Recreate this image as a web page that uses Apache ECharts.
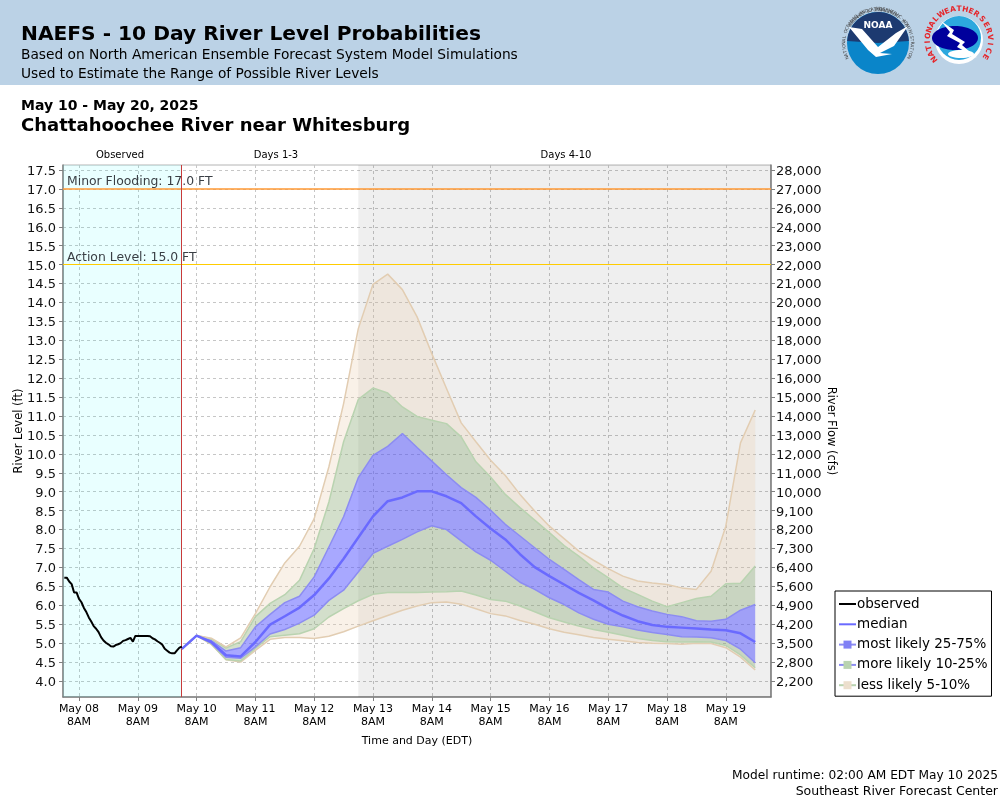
<!DOCTYPE html>
<html>
<head>
<meta charset="utf-8">
<style>html,body{margin:0;padding:0;background:#fff}#chart{width:1000px;height:800px}</style>
<script src="https://cdn.jsdelivr.net/npm/echarts@6/dist/echarts.min.js"></script>
</head>
<body>
<div id="chart"></div>
<script>
// hours counted from May 08 8AM
var observedStart = -6, forecastStart = 42, forecastStep = 6;
var observed = [6.73,6.73,6.63,6.56,6.34,6.34,6.17,6.08,5.93,5.82,5.68,5.57,5.45,5.38,5.29,5.16,5.07,5.01,4.97,4.92,4.91,4.95,4.97,5.0,5.06,5.08,5.11,5.14,5.04,5.19,5.19,5.19,5.19,5.19,5.19,5.18,5.13,5.1,5.05,5.01,4.96,4.85,4.8,4.75,4.73,4.73,4.81,4.88,4.91];
var median = [4.85,5.2,5.03,4.68,4.65,5.03,5.49,5.71,5.94,6.27,6.71,7.23,7.79,8.35,8.75,8.85,9.01,9.01,8.88,8.7,8.35,8.03,7.74,7.35,7.01,6.77,6.55,6.33,6.13,5.91,5.73,5.58,5.48,5.43,5.41,5.39,5.36,5.34,5.26,5.03];
var low5 = [4.85,5.2,4.97,4.56,4.5,4.81,5.1,5.15,5.15,5.12,5.18,5.3,5.45,5.59,5.73,5.87,5.98,6.07,6.09,6.03,5.91,5.78,5.72,5.6,5.5,5.38,5.29,5.22,5.15,5.1,5.06,5.02,5.0,4.99,4.97,5.0,4.99,4.88,4.63,4.29];
var low10 = [4.85,5.2,4.98,4.57,4.53,4.86,5.17,5.21,5.25,5.38,5.69,5.91,6.12,6.29,6.34,6.34,6.34,6.35,6.36,6.38,6.27,6.15,6.11,5.98,5.83,5.67,5.56,5.45,5.36,5.29,5.21,5.12,5.07,5.04,5.03,5.04,5.03,4.94,4.69,4.35];
var low25 = [4.85,5.2,5.0,4.63,4.6,4.9,5.24,5.36,5.53,5.74,6.13,6.4,6.88,7.37,7.56,7.74,7.94,8.1,8.0,7.7,7.41,7.19,6.9,6.61,6.42,6.2,6.02,5.8,5.63,5.5,5.43,5.35,5.28,5.23,5.17,5.16,5.14,5.07,4.84,4.48];
var high25 = [4.85,5.2,5.07,4.79,4.88,5.43,5.76,6.07,6.24,6.75,7.54,8.34,9.37,9.96,10.2,10.54,10.17,9.81,9.45,9.11,8.85,8.51,8.14,7.83,7.52,7.21,6.95,6.68,6.42,6.35,6.11,5.96,5.85,5.76,5.7,5.59,5.58,5.63,5.87,6.02];
var high10 = [4.85,5.2,5.11,4.87,5.04,5.7,6.05,6.28,6.66,7.5,8.73,10.32,11.44,11.74,11.61,11.24,10.99,10.89,10.8,10.45,9.79,9.39,8.93,8.58,8.25,7.92,7.58,7.3,6.99,6.73,6.46,6.29,6.11,5.96,6.07,6.18,6.24,6.57,6.58,7.04];
var high5 = [4.85,5.2,5.13,4.9,5.14,5.78,6.49,7.12,7.56,8.29,9.66,11.33,13.31,14.48,14.75,14.34,13.62,12.65,11.73,10.82,10.32,9.83,9.43,8.93,8.49,8.09,7.76,7.43,7.19,6.97,6.77,6.64,6.59,6.55,6.46,6.42,6.9,8.09,10.29,11.16];

var levelTicks = [4,4.5,5,5.5,6,6.5,7,7.5,8,8.5,9,9.5,10,10.5,11,11.5,12,12.5,13,13.5,14,14.5,15,15.5,16,16.5,17,17.5];
var flowLabels = ['2,200','2,800','3,500','4,200','4,900','5,600','6,400','7,300','8,200','9,100','10,000','11,000','12,000','13,000','14,000','15,000','16,000','17,000','18,000','19,000','20,000','21,000','22,000','23,000','24,000','26,000','27,000','28,000'];
var dayTicks = [0,24,48,72,96,120,144,168,192,216,240,264];
var dayLabels = ['May 08','May 09','May 10','May 11','May 12','May 13','May 14','May 15','May 16','May 17','May 18','May 19'];

var FONT = 'DejaVu Sans';
var TAN = '#e2cdb2', GREEN = '#b9d3b0', BLUE = '#8c8cf2', MEDIAN = '#6a6aff';

var forecastX = median.map(function (v, i) { return forecastStart + i * forecastStep; });
function pairs(xs, ys) { return ys.map(function (v, i) { return [xs[i], v]; }); }
// stacked rows: value first so the stack runs on the level, not the hour
function diff(top, bottom) { return top.map(function (v, i) { return [+(v - bottom[i]).toFixed(3), forecastX[i]]; }); }

function band(name, top, bottom, line, fill, legendFill) {
  return {
    name: name, type: 'line', stack: 'range', data: diff(top, bottom), encode: { x: 1, y: 0 },
    symbol: 'rect', showSymbol: false, lineStyle: { color: line, width: 1.5 },
    itemStyle: { color: legendFill, borderColor: line }, areaStyle: { color: fill, opacity: 1 }, z: 3, silent: true
  };
}

function limitLine(name, item) {
  return {
    name: name, type: 'line', data: [], z: 6, silent: true,
    markLine: {
      silent: true, symbol: 'none', animation: false, data: [item],
      label: { position: 'insideStartTop', fontFamily: FONT, fontSize: 12.4, color: '#3a3f45', distance: [4, 1] }
    }
  };
}

function txt(x, y, text, size, weight, align, color, rotation) {
  return {
    type: 'text', x: x, y: y, rotation: rotation || 0, z: 20,
    style: { text: text, fontFamily: FONT, fontSize: size, fontWeight: weight || 'normal', align: align || 'left', verticalAlign: 'middle', fill: color || '#000' }
  };
}

// letters set round a circle, for the two logos
function ring(cx, cy, r, text, from, to, size, weight, color, inward) {
  return text.split('').map(function (ch, i) {
    var a = (from + (to - from) * i / (text.length - 1)) * Math.PI / 180;
    var px = cx + r * Math.sin(a), py = cy - r * Math.cos(a);
    return txt(px, py, ch, size, weight, 'center', color, inward ? -a + Math.PI : -a);
  });
}

var logos = [
  { type: 'circle', shape: { cx: 878, cy: 43, r: 31 }, style: { fill: '#0a85c9' }, z: 15 },
  { type: 'sector', shape: { cx: 878, cy: 43, r: 31, startAngle: Math.PI * 1.02, endAngle: Math.PI * 1.98 }, style: { fill: '#1d3a70' }, z: 15 },
  { type: 'polygon', shape: { points: [[849,27],[862,29],[878,47],[896,33],[908,26],[894,46],[880,53],[892,54],[876,57],[868,50]] }, style: { fill: '#fff' }, z: 16 },
  txt(878, 26, 'NOAA', 9, 'bold', 'center', '#fff'),
  { type: 'circle', shape: { cx: 959, cy: 40, r: 24 }, style: { fill: '#fff' }, z: 15 },
  { type: 'circle', shape: { cx: 959, cy: 38, r: 22 }, style: { fill: '#2ca8de' }, z: 15 },
  { type: 'ellipse', shape: { cx: 955, cy: 38, rx: 23, ry: 12 }, style: { fill: '#00009c' }, z: 16 },
  { type: 'ellipse', shape: { cx: 961, cy: 54, rx: 13, ry: 4 }, style: { fill: '#fff' }, z: 16 },
  { type: 'polygon', shape: { points: [[941,21],[954,30],[952,34],[965,42],[962,45],[977,58],[957,47],[960,43],[947,36],[950,32]] }, style: { fill: '#fff' }, z: 17 }
].concat(
  ring(878, 43, 34, 'NATIONAL OCEANIC AND ATMOSPHERIC ADMINISTRATION', -115, 115, 4.5, 'normal', '#444', false),
  ring(878, 43, 34, 'U.S. DEPARTMENT OF COMMERCE', 58, -58, 4.5, 'normal', '#444', true),
  ring(959, 40, 31, 'NATIONAL', -128, -48, 7.5, 'bold', '#e5252a', false),
  ring(959, 40, 31, 'WEATHER', -34, 34, 7.5, 'bold', '#e5252a', false),
  ring(959, 40, 31, 'SERVICE', 48, 122, 7.5, 'bold', '#e5252a', false)
);

var page = [
  { type: 'rect', shape: { x: 0, y: 0, width: 1000, height: 85 }, style: { fill: '#bbd2e6' }, z: 10 },
  txt(21, 34.5, 'NAEFS - 10 Day River Level Probabilities', 20.2, 'bold'),
  txt(21, 55, 'Based on North American Ensemble Forecast System Model Simulations', 13.75),
  txt(21, 74, 'Used to Estimate the Range of Possible River Levels', 13.75),
  txt(21, 106, 'May 10 - May 20, 2025', 14, 'bold'),
  txt(21, 126, 'Chattahoochee River near Whitesburg', 18.05, 'bold'),
  txt(120, 155, 'Observed', 10, 'normal', 'center'),
  txt(276, 155, 'Days 1-3', 10, 'normal', 'center'),
  txt(566, 155, 'Days 4-10', 10, 'normal', 'center'),
  txt(19, 431, 'River Level (ft)', 11.5, 'normal', 'center', '#000', Math.PI / 2),
  txt(831, 431, 'River Flow (cfs)', 11.5, 'normal', 'center', '#000', -Math.PI / 2),
  txt(417, 741, 'Time and Day (EDT)', 11, 'normal', 'center'),
  txt(998, 776, 'Model runtime: 02:00 AM EDT May 10 2025', 12.2, 'normal', 'right'),
  txt(998, 792, 'Southeast River Forecast Center', 12.5, 'normal', 'right')
].concat(logos);

var grid = { left: 63, right: 229, top: 165, height: 532, show: true, backgroundColor: '#fff', borderColor: '#b4b4b4', borderWidth: 1 };
var xMin = -6.53, xMax = 282.45, yMin = 3.577, yMax = 17.633;
var dashed = { show: true, lineStyle: { type: [3, 3], color: '#c6c6c6', width: 1 } };
var tickLabelRich = { v: { fontFamily: FONT, fontSize: 13, color: '#111', padding: [3, 0, 0, 0] } };

var chart = echarts.init(document.getElementById('chart'));
chart.setOption({
  animation: false,
  textStyle: { fontFamily: FONT },
  graphic: { elements: page },
  grid: grid,
  legend: {
    orient: 'vertical', left: 835, top: 591, padding: [6, 4, 4, 3], itemGap: 6.3, itemWidth: 17, itemHeight: 10,
    backgroundColor: '#fff', borderColor: '#000', borderWidth: 1, selectedMode: false, z: 12,
    textStyle: { fontFamily: FONT, fontSize: 13.5, color: '#000', padding: [0, 0, 0, -4] },
    data: [
      { name: 'observed', itemStyle: { opacity: 0 } },
      { name: 'median', itemStyle: { opacity: 0 } },
      'most likely 25-75%', 'more likely 10-25%', 'less likely 5-10%'
    ]
  },
  xAxis: {
    type: 'value', min: xMin, max: xMax,
    axisLine: { onZero: false, lineStyle: { color: '#808080', width: 1.5 } },
    axisTick: { customValues: dayTicks, length: 4, lineStyle: { color: '#808080' } },
    axisLabel: {
      customValues: dayTicks, margin: 6, fontSize: 11, color: '#000', lineHeight: 13,
      formatter: function (v) { return dayLabels[dayTicks.indexOf(v)] + '\n8AM'; }
    },
    splitLine: dashed
  },
  yAxis: [{
    type: 'value', min: yMin, max: yMax,
    axisLine: { show: true, onZero: false, lineStyle: { color: '#808080', width: 1.5 } },
    axisTick: { show: true, customValues: levelTicks, length: 4, lineStyle: { color: '#808080' } },
    axisLabel: { customValues: levelTicks, margin: 7, rich: tickLabelRich, formatter: function (v) { return '{v|' + v.toFixed(1) + '}'; } },
    splitLine: dashed
  }, {
    type: 'value', position: 'right', min: yMin, max: yMax,
    axisLine: { show: true, onZero: false, lineStyle: { color: '#808080', width: 1.5 } },
    axisTick: { show: true, customValues: levelTicks, length: 4, lineStyle: { color: '#808080' } },
    axisLabel: { customValues: levelTicks, margin: 5, rich: tickLabelRich, formatter: function (v) { return '{v|' + flowLabels[levelTicks.indexOf(v)] + '}'; } },
    splitLine: { show: false }
  }],
  series: [
    {
      // shaded time ranges
      name: 'ranges', type: 'line', data: [], z: 1, silent: true,
      markArea: {
        silent: true,
        data: [
          [{ xAxis: xMin, itemStyle: { color: 'rgba(0,255,255,0.085)' } }, { xAxis: 41.8 }],
          [{ xAxis: 114, itemStyle: { color: 'rgba(0,0,0,0.063)' } }, { xAxis: xMax }]
        ]
      }
    },
    limitLine('minor', { yAxis: 17, lineStyle: { color: '#ff9933', width: 1.5, type: 'solid' }, label: { formatter: 'Minor Flooding: 17.0 FT' } }),
    limitLine('action', { yAxis: 15, lineStyle: { color: '#ffcc00', width: 1.2, type: 'solid' }, label: { formatter: 'Action Level: 15.0 FT' } }),
    limitLine('start', { xAxis: 41.8, lineStyle: { color: '#c83a3a', width: 1, type: 'solid' }, label: { show: false } }),
    {
      name: 'base', type: 'line', stack: 'range', data: low5.map(function (v, i) { return [v, forecastX[i]]; }),
      encode: { x: 1, y: 0 }, symbol: 'none', lineStyle: { color: TAN, width: 1.5 }, z: 3, silent: true
    },
    band('less likely 5-10%', low10, low5, GREEN, 'rgba(235,210,180,0.3)', '#ecdfcd'),
    band('more likely 10-25%', low25, low10, BLUE, 'rgba(144,175,125,0.4)', '#b9d3b0'),
    band('most likely 25-75%', high25, low25, BLUE, 'rgba(90,90,255,0.53)', '#8080f5'),
    band('more likely 10-25%', high10, high25, GREEN, 'rgba(144,175,125,0.4)', '#b9d3b0'),
    band('less likely 5-10%', high5, high10, TAN, 'rgba(235,210,180,0.3)', '#ecdfcd'),
    {
      name: 'median', type: 'line', data: pairs(forecastX, median), symbol: 'none',
      lineStyle: { color: MEDIAN, width: 2.5 }, itemStyle: { color: MEDIAN }, z: 5, silent: true
    },
    {
      name: 'observed', type: 'line',
      data: observed.map(function (v, i) { return [observedStart + i, v]; }), symbol: 'none',
      lineStyle: { color: '#000', width: 2 }, itemStyle: { color: '#000' }, z: 5, silent: true
    }
  ]
});
</script>
</body>
</html>
